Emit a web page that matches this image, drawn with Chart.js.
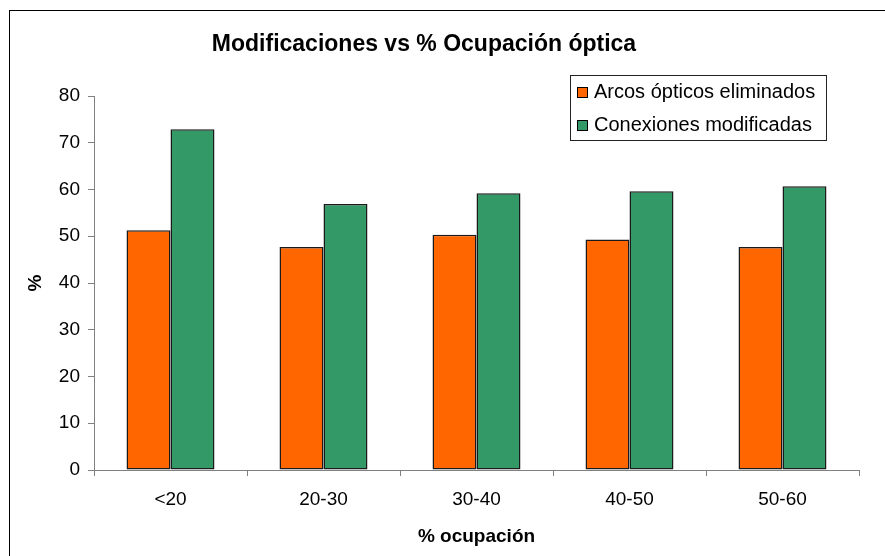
<!DOCTYPE html>
<html lang="es">
<head>
    <meta charset="UTF-8">
    <title>Modificaciones vs % Ocupación óptica</title>
    <style>
        html, body {
            margin: 0;
            padding: 0;
            background: #ffffff;
        }
        .chart-container {
            width: 885px;
            height: 556px;
        }
    </style>
</head>
<body>

<div class="chart-container">
    <canvas id="graficoOcupacion" width="885" height="556"></canvas>
</div>

<script src="https://cdn.jsdelivr.net/npm/chart.js"></script>
<script>
    const titulo = 'Modificaciones vs % Ocupación óptica';
    const categorias = ['<20', '20-30', '30-40', '40-50', '50-60'];
    const arcosEliminados = [51.3, 47.7, 50.3, 49.3, 47.7];
    const conexionesModificadas = [72.9, 56.9, 59.2, 59.6, 60.7];
    const ticksY = [0, 10, 20, 30, 40, 50, 60, 70, 80];

    const fuente = 'Arial, "Liberation Sans", sans-serif';

    // marco, titulo y leyenda dibujados a mano
    const decoracion = {
        id: 'decoracion',
        afterDraw(chart) {
            const ctx = chart.ctx;
            ctx.save();

            ctx.strokeStyle = '#000000';
            ctx.lineWidth = 1;
            ctx.strokeRect(9.5, 10.5, 900, 600);

            ctx.fillStyle = '#000000';
            ctx.font = 'bold 23px ' + fuente;
            ctx.textAlign = 'center';
            ctx.textBaseline = 'middle';
            ctx.fillText(titulo, 424, 45);

            // leyenda
            ctx.fillStyle = '#ffffff';
            ctx.fillRect(570, 75, 256, 65);
            ctx.strokeStyle = '#222222';
            ctx.strokeRect(570.5, 75.5, 256, 65);
            ctx.font = '20px ' + fuente;
            ctx.textAlign = 'left';
            chart.data.datasets.forEach((ds, i) => {
                const y = 92 + i * 33;
                ctx.fillStyle = ds.backgroundColor;
                ctx.fillRect(577, y - 5, 10, 10);
                ctx.strokeStyle = '#000000';
                ctx.strokeRect(577.5, y - 4.5, 10, 10);
                ctx.fillStyle = '#000000';
                ctx.fillText(ds.label, 594, y);
            });
            ctx.restore();
        }
    };

    const ctx = document.getElementById('graficoOcupacion').getContext('2d');
    new Chart(ctx, {
        type: 'bar',
        data: {
            labels: categorias,
            datasets: [{
                label: 'Arcos ópticos eliminados',
                data: arcosEliminados,
                backgroundColor: '#FF6600',
                borderColor: '#1a1a1a',
                borderWidth: 1.5,
                borderSkipped: false
            }, {
                label: 'Conexiones modificadas',
                data: conexionesModificadas,
                backgroundColor: '#339966',
                borderColor: '#1a1a1a',
                borderWidth: 1.5,
                borderSkipped: false
            }]
        },
        options: {
            responsive: false,
            animation: false,
            layout: {
                padding: { top: 96, right: 26, bottom: 0, left: 0 }
            },
            datasets: {
                bar: {
                    barPercentage: 1,
                    categoryPercentage: 0.575
                }
            },
            scales: {
                x: {
                    afterFit: (s) => { s.height = 86; },
                    grid: {
                        offset: true,
                        drawOnChartArea: false,
                        tickLength: 6,
                        color: '#808080'
                    },
                    border: { color: '#808080' },
                    ticks: {
                        color: '#000000',
                        padding: 12,
                        font: { family: fuente, size: 19 }
                    },
                    title: {
                        display: true,
                        text: '% ocupación',
                        color: '#000000',
                        padding: { top: 0, bottom: 8 },
                        font: { family: fuente, size: 19, weight: 'bold' }
                    }
                },
                y: {
                    min: 0,
                    max: 80,
                    afterFit: (s) => { s.width = 94; },
                    afterBuildTicks: (s) => { s.ticks = ticksY.map(v => ({ value: v })); },
                    grid: {
                        drawOnChartArea: false,
                        tickLength: 6,
                        color: '#808080'
                    },
                    border: { color: '#808080' },
                    ticks: {
                        color: '#000000',
                        padding: 8,
                        font: { family: fuente, size: 19 }
                    },
                    title: {
                        display: true,
                        text: '%',
                        color: '#000000',
                        padding: { top: 24, bottom: 0 },
                        font: { family: fuente, size: 19, weight: 'bold' }
                    }
                }
            },
            plugins: {
                legend: { display: false },
                tooltip: { enabled: false }
            }
        },
        plugins: [decoracion]
    });
</script>

</body>
</html>
